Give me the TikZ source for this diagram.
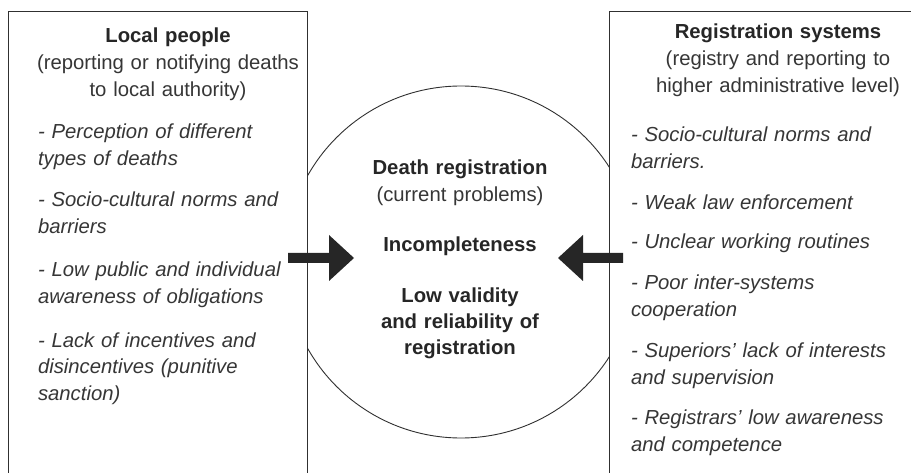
\documentclass[tikz,border=0pt]{standalone}
\usepackage{fontspec}
\setmainfont{Liberation Sans}
\definecolor{ink}{HTML}{262626}
\definecolor{softink}{HTML}{363636}
\definecolor{linec}{HTML}{303030}
\tikzset{
  every node/.style={inner sep=0pt, outer sep=0pt, text=softink},
  headtext/.style={anchor=base, text width=300pt, align=center, font=\fontsize{20.3}{27}\selectfont},
  midtext/.style={anchor=base, text width=300pt, align=center, font=\fontsize{20.3}{26.2}\selectfont\bfseries},
  itemtext/.style={anchor=base west, text width=285pt, align=left, font=\fontsize{20.3}{27}\selectfont\itshape},
  boldpart/.style={},
  boxline/.style={draw=linec, line width=1pt},
  ringline/.style={draw=linec, line width=0.9pt},
  bigarrow/.style={fill=ink, draw=none},
}
\newcommand{\strongtxt}[1]{{\color{ink}\bfseries #1}}
\begin{document}
\begin{tikzpicture}[x=1pt,y=-1pt]
\useasboundingbox (0,0) rectangle (911,473);
% central circle
\node[circle, ringline, minimum size=352pt] (ring) at (461,262) {};
% boxes (white, hiding the circle inside them)
\coordinate (lbl) at (8,473);
\coordinate (ltl) at (8,12);
\coordinate (ltr) at (307,12);
\coordinate (lbr) at (307,473);
\coordinate (rtr) at (911,12);
\coordinate (rtl) at (609,12);
\coordinate (rbl) at (609,473);
\fill[white] (ltl) rectangle (lbr);
\fill[white] (rtl) rectangle (911,473);
\draw[boxline] (lbl) -- (ltl) -- (ltr) -- (lbr);
\draw[boxline] (rtr) -- (rtl) -- (rbl);
% left box texts
\node[headtext] (lhead) at (168,43) {\strongtxt{Local people}\\(reporting or notifying deaths\\to local authority)};
\node[itemtext] (l1) at (38,139) {- Perception of different\\types of deaths};
\node[itemtext] (l2) at (38,207) {- Socio-cultural norms and\\barriers};
\node[itemtext] (l3) at (38,277) {- Low public and individual\\awareness of obligations};
\node[itemtext] (l4) at (38,347) {- Lack of incentives and\\disincentives (punitive\\sanction)};
% right box texts
\node[headtext] (rhead) at (778,39) {\strongtxt{Registration systems}\\(registry and reporting to\\higher administrative level)};
\node[itemtext] (r1) at (631,142) {- Socio-cultural norms and\\barriers.};
\node[itemtext] (r2) at (631,210) {- Weak law enforcement};
\node[itemtext] (r3) at (631,249) {- Unclear working routines};
\node[itemtext] (r4) at (631,290) {- Poor inter-systems\\cooperation};
\node[itemtext] (r5) at (631,357) {- Superiors’ lack of interests\\and supervision};
\node[itemtext] (r6) at (631,424) {- Registrars’ low awareness\\and competence};
% centre texts
\node[midtext, text=ink] (c1) at (460,175) {Death registration\\{\mdseries\color{softink}(current problems)}};
\node[midtext, text=ink] (c2) at (460,252) {Incompleteness};
\node[midtext, text=ink] (c3) at (460,302) {Low validity\\and reliability of\\registration};
% arrows
\coordinate (la0) at (288,258);
\coordinate (ra0) at (623,258);
\fill[bigarrow] (288,253) -- (329,253) -- (329,235) -- (354,258) -- (329,281) -- (329,263) -- (288,263) -- cycle;
\fill[bigarrow] (623,253) -- (583,253) -- (583,235) -- (558,258) -- (583,281) -- (583,263) -- (623,263) -- cycle;
\end{tikzpicture}
\end{document}
